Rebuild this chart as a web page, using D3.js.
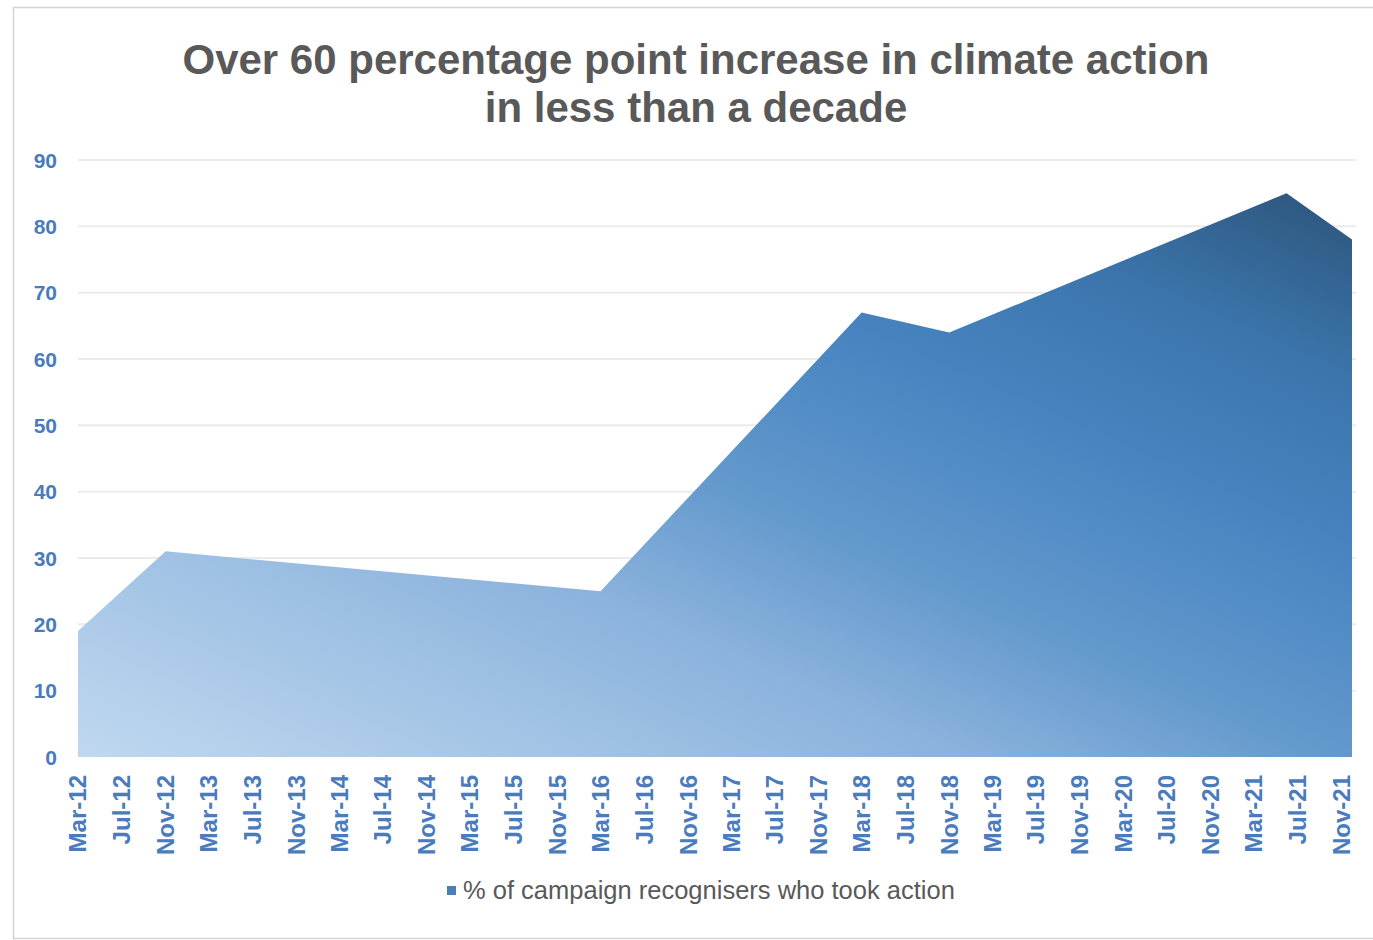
<!DOCTYPE html>
<html><head><meta charset="utf-8">
<script src="https://cdn.jsdelivr.net/npm/d3@7"></script>
<style>body{margin:0;background:#fff;}svg{display:block;font-family:"Liberation Sans",Arial,sans-serif;}</style>
</head><body>
<svg id="c" width="1373" height="940"></svg>
<script>
const titleLines = ["Over 60 percentage point increase in climate action", "in less than a decade"];
const seriesName = "% of campaign recognisers who took action";
const dates = ["2012-03", "2012-11", "2016-03", "2018-03", "2018-11", "2021-06", "2021-12"];
const values = [19, 31, 25, 67, 64, 85, 78];
const yTicks = [0, 10, 20, 30, 40, 50, 60, 70, 80, 90];
const tickStart = "2012-03", tickEnd = "2021-11", tickStepMonths = 4;

const parse = d3.timeParse("%Y-%m");
const data = dates.map((d, i) => ({date: parse(d), value: values[i]}));

const svg = d3.select("#c");
const W = 1373, H = 940;
const x = d3.scaleTime().domain([parse(dates[0]), parse(dates[dates.length-1])]).range([78, 1352]);
const y = d3.scaleLinear().domain([0, 90]).range([757, 160]);

// border
svg.append("rect").attr("x", 13.5).attr("y", 7.5).attr("width", W + 20).attr("height", 931)
  .attr("fill", "none").attr("stroke", "#d4d4d4").attr("stroke-width", 1.5);

// title
svg.append("g").selectAll("text").data(titleLines).join("text")
  .attr("x", 696).attr("y", (d, i) => 74 + i * 48)
  .attr("text-anchor", "middle").attr("font-weight", "bold").attr("font-size", 42)
  .attr("fill", "#595959").text(d => d);

// gridlines
svg.append("g").selectAll("line").data(yTicks.filter(t => t > 0)).join("line")
  .attr("x1", 78).attr("x2", 1356).attr("y1", d => y(d)).attr("y2", d => y(d))
  .attr("stroke", "#ebebeb").attr("stroke-width", 2);

// y labels
svg.append("g").selectAll("text").data(yTicks).join("text")
  .attr("x", 57).attr("y", d => y(d)).attr("dy", "0.36em")
  .attr("text-anchor", "end").attr("font-weight", "bold").attr("font-size", 21)
  .attr("fill", "#4a7bbd").text(d => d);

// gradient
const defs = svg.append("defs");
const grad = defs.append("linearGradient").attr("id", "g1")
  .attr("x1", 0).attr("y1", 1).attr("x2", 1).attr("y2", 0);
[[0, "#bfd8ef"], [0.2, "#a2c3e5"], [0.35, "#8ab2dc"], [0.5, "#6298cc"], [0.68, "#4784c0"], [0.84, "#3b74aa"], [1, "#2c5479"]]
  .forEach(([o, c]) => grad.append("stop").attr("offset", o).attr("stop-color", c));

const area = d3.area().x(d => x(d.date)).y0(y(0)).y1(d => y(d.value));
svg.append("path").datum(data).attr("d", area).attr("fill", "url(#g1)");

// x tick labels
const ticks = d3.timeMonths(parse(tickStart), d3.timeMonth.offset(parse(tickEnd), 1), tickStepMonths);
const fmt = d3.timeFormat("%b-%y");
svg.append("g").selectAll("text").data(ticks).join("text")
  .attr("transform", d => `translate(${x(d)},775) rotate(-90)`)
  .attr("dy", "0.35em")
  .attr("text-anchor", "end").attr("font-weight", "bold").attr("font-size", 24)
  .attr("fill", "#4a7bbd").text(d => fmt(d));

// legend
svg.append("rect").attr("x", 447).attr("y", 886).attr("width", 9).attr("height", 9).attr("fill", "#4a7fb8");
svg.append("text").attr("x", 463).attr("y", 899).attr("font-size", 25.5).attr("fill", "#595959").text(seriesName);
</script>
</body></html>
